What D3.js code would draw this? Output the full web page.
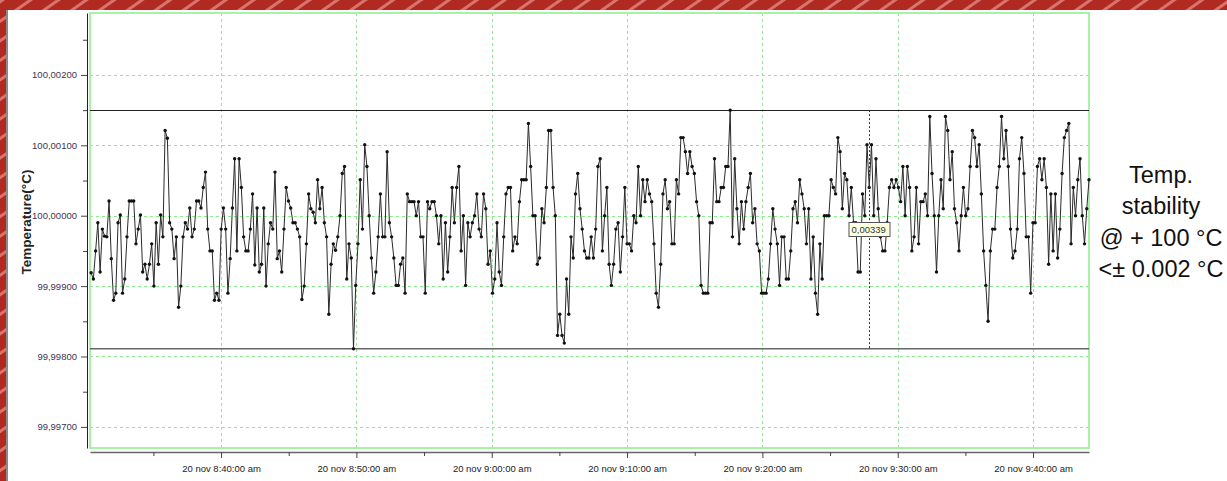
<!DOCTYPE html>
<html>
<head>
<meta charset="utf-8">
<script src="https://cdn.jsdelivr.net/npm/d3@7"></script>
<style>
  body { margin: 0; background: #fff; }
  svg { display: block; }
  text { font-family: Arial, "Liberation Sans", sans-serif; }
</style>
</head>
<body>
<svg id="chart" width="1227" height="481"></svg>
<script>
const baseTemp = 100;
// readings as deviation from 100 °C, in units of 0.00001 °C
const deviation = [
  -81,-90,-50,-10,-80,-19,-29,-30,21,-61,-120,-110,-10,1,-110,-90,-30,21,21,21,
  -40,-19,1,-80,-69,-90,-69,-40,-100,-10,-69,1,-30,121,110,-10,-19,-61,-30,-130,
  -100,-30,-10,-19,11,-30,-19,21,21,11,40,62,-19,-50,-50,-120,-110,-120,-19,11,
  -19,-110,-61,11,81,-50,81,40,-30,-50,-50,-19,31,-70,11,-80,-69,11,-100,-40,
  -10,-19,62,-61,-50,-80,-19,40,21,11,-10,-10,-19,-30,
  -119,-100,-40,31,10,5,-10,51,10,40,-10,-30,-140,-69,-40,-49,-30,0,60,70,
  -90,-40,-60,-189,-99,-40,51,-19,101,70,0,-60,-110,-80,-30,31,-30,-30,91,-10,
  -30,-60,-99,-99,-69,-60,-110,31,20,20,20,0,20,-30,-30,-110,20,10,20,20,
  0,-40,0,-90,-10,-80,-30,40,-10,40,70,-50,0,-99,-10,-30,-10,0,31,-19,
  -30,31,10,-69,-50,-110,-90,-10,-80,-99,-30,31,40,40,-50,-30,-40,20,51,51,
  51,131,70,0,0,-69,-60,10,-10,40,121,121,40,0,-170,-140,-170,-181,-90,-140,
  -30,-60,31,60,10,-19,-50,-60,-60,-30,-60,-19,70,81,
  -50,0,40,-69,-99,-69,-19,-10,-80,-30,40,-40,-40,-50,0,-10,70,0,51,20,
  51,31,20,-40,-110,-130,-69,31,51,10,20,-40,-40,51,31,111,111,91,60,91,
  70,60,20,0,-99,-110,-110,-110,-10,-10,81,20,20,40,40,70,70,150,-30,81,
  10,-40,20,-19,20,40,60,-10,10,-40,-50,-110,-110,-110,-90,-40,10,-19,-40,-99,
  -30,-30,-90,-90,-50,10,20,-10,51,31,10,-40,10,-90,-30,-110,-140,-40,-90,0,
  0,0,51,40,31,111,91,10,60,51,0,40,-10,-10,-80,-80,31,0,101,40,
  101,0,81,10,-30,-50,-50,-10,40,51,40,51,
  40,20,70,0,70,40,-50,-30,40,-40,20,20,31,0,141,60,0,-80,0,51,
  10,141,121,51,91,10,-10,-50,0,40,0,10,70,121,111,70,101,31,-50,-99,
  -150,-50,-19,-19,40,70,141,81,121,70,-19,-60,-50,-19,81,111,60,-30,-30,-110,
  -10,-10,70,81,51,81,40,-69,31,-50,31,-60,-19,60,111,121,131,-40,40,0,
  51,81,0,-40,10,51
];
const sampleStart = "2012-11-20T08:30:24";
const sampleEnd = "2012-11-20T09:44:08";
const axisStart = "2012-11-20T08:30:19";
const axisEnd = "2012-11-20T09:44:08";
const yDomain = [99.99670, 100.00288];
const yTicks = [99.997, 99.998, 99.999, 100.000, 100.001, 100.002];
const yMinorTicks = [99.9975, 99.9985, 99.9995, 100.0005, 100.0015, 100.0025];
const cursorTime = "2012-11-20T09:27:54";
const noteLines = ["Temp.", "stability", "@ + 100 °C", "<± 0.002 °C"];

const svg = d3.select("#chart");
const W = 1227, H = 481;
const plot = { left: 90, right: 1089, top: 13, bottom: 448 };

// red frame with light stripes
const defs = svg.append("defs");
const pat = defs.append("pattern")
    .attr("id", "stripes").attr("width", 16).attr("height", 16)
    .attr("patternUnits", "userSpaceOnUse")
    .attr("patternTransform", "rotate(-35)");
pat.append("rect").attr("width", 16).attr("height", 16).attr("fill", "#b02a22");
pat.append("rect").attr("width", 16).attr("height", 3).attr("fill", "#d9746c");
svg.append("rect").attr("width", W).attr("height", H).attr("fill", "url(#stripes)");
svg.append("rect").attr("x", 6).attr("y", 10).attr("width", 2).attr("height", H - 10).attr("fill", "#8a8a8a");
svg.append("rect").attr("x", 8).attr("y", 10).attr("width", W - 8).attr("height", H - 10).attr("fill", "#fff");

const parse = s => new Date(s);
const t0 = parse(sampleStart), t1 = parse(sampleEnd);
const step = (t1 - t0) / (deviation.length - 1);
const data = deviation.map((d, i) => ({ t: new Date(+t0 + i * step), v: baseTemp + d / 1e5 }));

const x = d3.scaleTime().domain([parse(axisStart), parse(axisEnd)]).range([plot.left, plot.right]);
const y = d3.scaleLinear().domain(yDomain).range([plot.bottom, plot.top]);

const majorTimes = x.ticks(d3.timeMinute.every(10));
const minorTimes = x.ticks(d3.timeMinute.every(5)).filter(t => t.getMinutes() % 10 !== 0);

// grid
const grid = svg.append("g").attr("stroke", "#8eea8e").attr("stroke-dasharray", "3,3").attr("stroke-width", 1);
grid.selectAll(".vg").data(majorTimes).join("line")
    .attr("x1", d => Math.round(x(d)) + 0.5).attr("x2", d => Math.round(x(d)) + 0.5)
    .attr("y1", plot.top).attr("y2", plot.bottom);
grid.selectAll(".hg").data(yTicks).join("line")
    .attr("y1", d => Math.round(y(d)) + 0.5).attr("y2", d => Math.round(y(d)) + 0.5)
    .attr("x1", plot.left).attr("x2", plot.right);

// plot border
svg.append("rect")
    .attr("x", plot.left).attr("y", plot.top)
    .attr("width", plot.right - plot.left).attr("height", plot.bottom - plot.top)
    .attr("fill", "none").attr("stroke", "#a6f2a6").attr("stroke-width", 2);

// min / max lines
const vMax = d3.max(data, d => d.v), vMin = d3.min(data, d => d.v);
svg.append("line").attr("x1", plot.left).attr("x2", plot.right)
    .attr("y1", Math.round(y(vMax)) + 0.5).attr("y2", Math.round(y(vMax)) + 0.5)
    .attr("stroke", "#222").attr("stroke-width", 1);
svg.append("line").attr("x1", plot.left).attr("x2", plot.right)
    .attr("y1", y(vMin)).attr("y2", y(vMin))
    .attr("stroke", "#666").attr("stroke-width", 1.6);

// series
const line = d3.line().x(d => x(d.t)).y(d => y(d.v));
svg.append("path").datum(data).attr("d", line)
    .attr("fill", "none").attr("stroke", "#2a2a2a").attr("stroke-width", 1);
svg.append("g").selectAll("circle").data(data).join("circle")
    .attr("cx", d => x(d.t)).attr("cy", d => y(d.v)).attr("r", 1.7).attr("fill", "#111");

// cursor and readout
const cx = Math.round(x(parse(cursorTime))) + 0.5;
svg.append("line").attr("x1", cx).attr("x2", cx)
    .attr("y1", y(vMax)).attr("y2", y(vMin))
    .attr("stroke", "#333").attr("stroke-dasharray", "2,2");
const fmt = v => d3.format(".5f")(v).replace(".", ",");
const tip = svg.append("g").attr("transform", `translate(${cx - 21},222)`);
tip.append("rect").attr("x", 0.5).attr("y", 0.5).attr("width", 41).attr("height", 14)
    .attr("fill", "#ffffe1").attr("stroke", "#555");
tip.append("text").attr("x", 3).attr("y", 11).attr("font-size", 9.5).attr("fill", "#333")
    .text(fmt(vMax - vMin));

// y axis
const yAxis = svg.append("g").attr("transform", "translate(87,0)")
    .call(d3.axisLeft(y).tickValues(yTicks).tickSize(6).tickSizeOuter(0).tickPadding(4).tickFormat(fmt));
yAxis.select(".domain").attr("stroke", "#222");
yAxis.selectAll(".tick line").attr("stroke", "#444");
yAxis.selectAll("text").attr("font-size", 9.5).attr("fill", "#3b3356").style("font-family", "Arial, 'Liberation Sans', sans-serif");
svg.append("g").attr("transform", "translate(87,0)")
    .call(d3.axisLeft(y).tickValues(yMinorTicks).tickSize(4).tickFormat(""))
    .call(g => g.select(".domain").remove())
    .selectAll("line").attr("stroke", "#444");

// x axis
const tf = d3.timeFormat("%-d %b %-I:%M:%S %p");
const xAxis = svg.append("g").attr("transform", "translate(0,452)")
    .call(d3.axisBottom(x).tickValues(majorTimes).tickSize(6).tickSizeOuter(0).tickPadding(7)
      .tickFormat(d => tf(d).toLowerCase()));
xAxis.select(".domain").attr("stroke", "#666").attr("stroke-width", 1.5);
xAxis.selectAll(".tick line").attr("stroke", "#444");
xAxis.selectAll("text").attr("font-size", 9.5).attr("fill", "#222").style("font-family", "Arial, 'Liberation Sans', sans-serif");
svg.append("g").attr("transform", "translate(0,452)")
    .call(d3.axisBottom(x).tickValues(minorTimes).tickSize(4).tickFormat(""))
    .call(g => g.select(".domain").remove())
    .selectAll("line").attr("stroke", "#444");

// y title
svg.append("text").attr("transform", "translate(30.5,222) rotate(-90)")
    .attr("text-anchor", "middle").attr("font-size", 13.5).attr("font-weight", "bold").attr("fill", "#222")
    .text("Temperature(°C)");

// side note
svg.append("g").selectAll("text").data(noteLines).join("text")
    .attr("x", 1161).attr("y", (d, i) => 183 + i * 31.3)
    .attr("text-anchor", "middle").attr("font-size", 23.5).attr("fill", "#111")
    .text(d => d);
</script>
</body>
</html>
